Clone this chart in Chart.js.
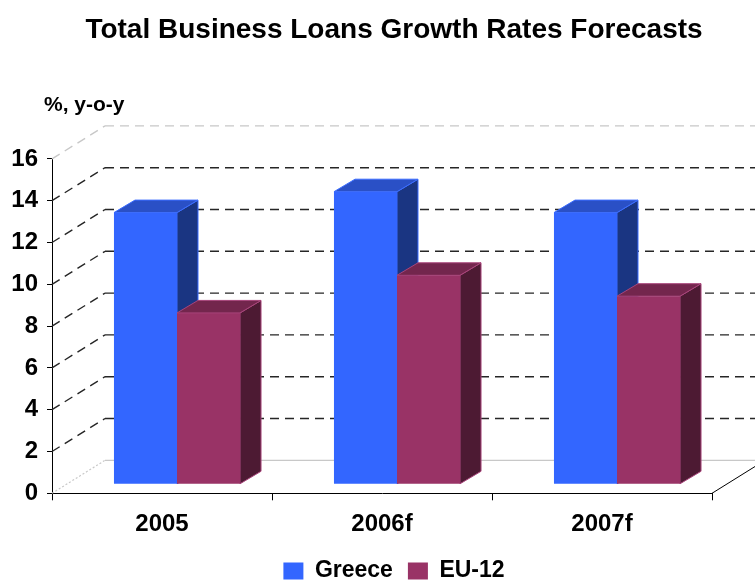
<!DOCTYPE html>
<html>
<head>
<meta charset="utf-8">
<script src="https://cdn.jsdelivr.net/npm/chart.js@4.4.1/dist/chart.umd.min.js"></script>
<style>
  html, body { margin: 0; padding: 0; background: #ffffff; }
  #wrap { width: 755px; height: 582px; }
</style>
</head>
<body>
<div id="wrap"><canvas id="chart" width="755" height="582"></canvas></div>
<script>
// Annual growth of total business loans, % y-o-y
const categories = ['2005', '2006f', '2007f'];
const greece = [13, 14, 13];
const eu12 = [8.2, 10, 9];
const yTickValues = [0, 2, 4, 6, 8, 10, 12, 14, 16];
const unitLabel = '%, y-o-y';

const FONT = "'Liberation Sans', Arial, Helvetica, sans-serif";

// Oblique projection of the box: back wall offset, bar placement in depth
const WALL = { x: 53, y: -33 };
const BAR_SHIFT = { x: 15, y: -9 };
const BAR_DEPTH = { x: 21, y: -12.5 };

function poly(ctx, pts, fill, stroke) {
  ctx.beginPath();
  ctx.moveTo(pts[0][0], pts[0][1]);
  for (let i = 1; i < pts.length; i++) ctx.lineTo(pts[i][0], pts[i][1]);
  ctx.closePath();
  ctx.fillStyle = fill;
  ctx.fill();
  if (stroke) { ctx.strokeStyle = stroke; ctx.lineWidth = 1; ctx.stroke(); }
}

function barBoxes(chart) {
  const out = [];
  chart.data.datasets.forEach((ds, di) => {
    const meta = chart.getDatasetMeta(di);
    meta.data.forEach(el => {
      const p = el.getProps(['x', 'y', 'base', 'width'], true);
      const l = p.x - p.width / 2 + BAR_SHIFT.x;
      const r = p.x + p.width / 2 + BAR_SHIFT.x;
      const t = p.y + BAR_SHIFT.y;
      const b = p.base + BAR_SHIFT.y;
      out.push({ l, r, t, b, ds });
    });
  });
  return out;
}

const box3d = {
  id: 'box3d',
  beforeDatasetsDraw(chart) {
    const { ctx, chartArea } = chart;
    const yScale = chart.scales.y;
    const left = chartArea.left;
    const W = chart.width;

    ctx.save();
    // back-wall grid and the diagonals that join it to the value axis
    yScale.ticks.forEach(tk => {
      const y = yScale.getPixelForValue(tk.value);
      const isFloor = tk.value === yScale.min;
      const isTop = tk.value === yScale.max;
      const col = (isFloor || isTop) ? '#c8c8c8' : '#262626';
      ctx.strokeStyle = col;
      ctx.lineWidth = isFloor ? 1.2 : 1.4;
      ctx.setLineDash(isFloor ? [2, 2] : [9, 6]);
      ctx.beginPath();
      ctx.moveTo(left, y);
      ctx.lineTo(left + WALL.x, y + WALL.y);
      ctx.stroke();
      ctx.setLineDash(isFloor ? [] : [9, 6]);
      ctx.beginPath();
      ctx.moveTo(left + WALL.x, y + WALL.y);
      ctx.lineTo(W, y + WALL.y);
      ctx.stroke();
    });
    ctx.setLineDash([]);
    // right edge of the floor
    ctx.strokeStyle = '#000';
    ctx.lineWidth = 1;
    ctx.beginPath();
    ctx.moveTo(chartArea.right, chartArea.bottom);
    ctx.lineTo(chartArea.right + WALL.x, chartArea.bottom + WALL.y);
    ctx.stroke();

    // side faces sit behind the front faces
    barBoxes(chart).forEach(bx => {
      poly(ctx, [
        [bx.r, bx.t], [bx.r + BAR_DEPTH.x, bx.t + BAR_DEPTH.y],
        [bx.r + BAR_DEPTH.x, bx.b + BAR_DEPTH.y], [bx.r, bx.b]
      ], bx.ds.sideColor, bx.ds.edgeColor);
    });
    ctx.restore();

    // front faces drawn by the library, moved into the box
    ctx.save();
    ctx.translate(BAR_SHIFT.x, BAR_SHIFT.y);
  },
  afterDatasetsDraw(chart) {
    const { ctx } = chart;
    ctx.restore();
    ctx.save();
    barBoxes(chart).forEach(bx => {
      poly(ctx, [
        [bx.l, bx.t], [bx.r, bx.t],
        [bx.r + BAR_DEPTH.x, bx.t + BAR_DEPTH.y], [bx.l + BAR_DEPTH.x, bx.t + BAR_DEPTH.y]
      ], bx.ds.topColor, bx.ds.edgeColor);
    });
    ctx.restore();
  },
  afterDraw(chart) {
    const { ctx } = chart;
    ctx.save();
    ctx.font = 'bold 21px ' + FONT;
    ctx.fillStyle = '#000';
    ctx.textAlign = 'left';
    ctx.textBaseline = 'alphabetic';
    ctx.fillText(unitLabel, 44, 110.5);
    ctx.restore();
  }
};

new Chart(document.getElementById('chart'), {
  type: 'bar',
  data: {
    labels: categories,
    datasets: [
      {
        label: 'Greece',
        data: greece,
        backgroundColor: '#3366ff',
        borderWidth: 0,
        topColor: '#2a50c6',
        sideColor: '#1a3582',
        edgeColor: '#3a6cff'
      },
      {
        label: 'EU-12',
        data: eu12,
        backgroundColor: '#993366',
        borderWidth: 0,
        topColor: '#73264d',
        sideColor: '#4d1a33',
        edgeColor: '#a8447a'
      }
    ]
  },
  options: {
    responsive: false,
    animation: false,
    events: [],
    // right bound pushed past the canvas so title and legend centre near x=394
    layout: { padding: { left: 0, right: -33, top: 0, bottom: -10.5 } },
    datasets: { bar: { categoryPercentage: 0.573, barPercentage: 1 } },
    plugins: {
      title: {
        display: true,
        text: 'Total Business Loans Growth Rates Forecasts',
        color: '#000',
        font: { family: FONT, size: 28, weight: 'bold', lineHeight: 1.2 },
        padding: { top: 13.2, bottom: 112.1 }
      },
      legend: {
        display: true,
        position: 'bottom',
        labels: {
          color: '#000',
          font: { family: FONT, size: 23, weight: 'bold' },
          boxWidth: 20,
          boxHeight: 17,
          padding: 15
        }
      },
      tooltip: { enabled: false }
    },
    scales: {
      x: {
        grid: {
          display: true,
          drawOnChartArea: false,
          offset: true,
          tickLength: 7,
          color: '#000'
        },
        border: { display: true, color: '#000', width: 1 },
        ticks: {
          color: '#000',
          font: { family: FONT, size: 24, weight: 'bold' },
          padding: 10,
          maxRotation: 0
        },
        afterFit(s) { s.height = 51.2; }
      },
      y: {
        min: 0,
        max: 16,
        afterBuildTicks(s) { s.ticks = yTickValues.map(v => ({ value: v })); },
        grid: {
          display: true,
          drawOnChartArea: false,
          tickLength: 5,
          color: '#000'
        },
        border: { display: true, color: '#000', width: 1 },
        ticks: {
          color: '#000',
          font: { family: FONT, size: 24, weight: 'bold' },
          padding: 9
        },
        afterFit(s) { s.width = 52; }
      },
      yRight: {
        type: 'linear',
        position: 'right',
        display: true,
        grid: { display: false },
        border: { display: false },
        ticks: { display: false },
        afterFit(s) { s.width = 76; }
      }
    }
  },
  plugins: [box3d]
});
</script>
</body>
</html>
